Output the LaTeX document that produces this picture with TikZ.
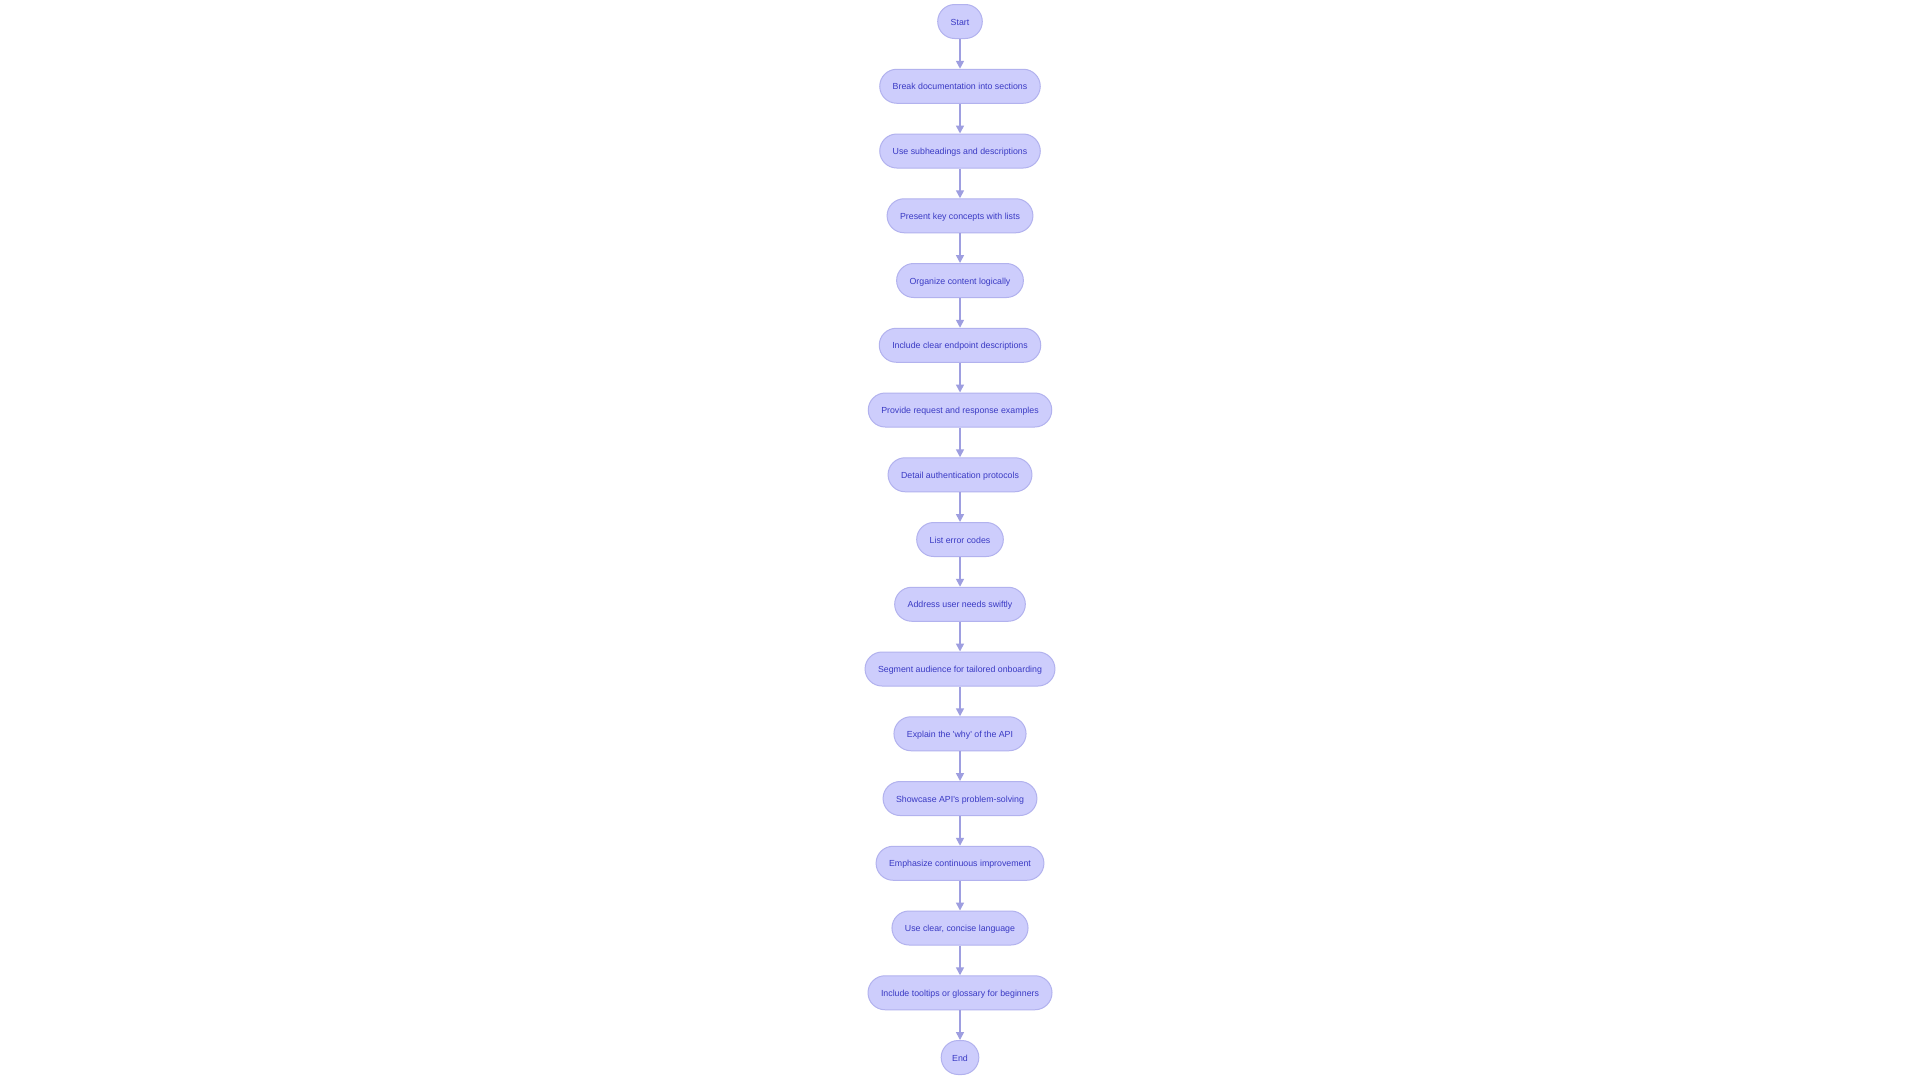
\documentclass[tikz,border=0pt]{standalone}
\usepackage{fontspec}
\setmainfont{Liberation Sans}
\usetikzlibrary{arrows.meta}
\definecolor{nodefill}{RGB}{205,205,252}
\definecolor{nodestroke}{RGB}{178,178,238}
\definecolor{nodetext}{RGB}{58,58,196}
\definecolor{edgecol}{RGB}{158,158,224}
\begin{document}
\begin{tikzpicture}[x=1pt,y=-1pt,
  flowbox/.style={draw=nodestroke, fill=nodefill, line width=1pt, rounded corners=17pt,
    minimum height=34pt, inner xsep=13pt, inner ysep=2pt, text=nodetext,
    text height=8pt, text depth=1pt,
    font=\fontsize{8.8}{10}\selectfont},
  flowarrow/.style={draw=edgecol, line width=1.6pt, -{Triangle[length=8pt,width=8pt]}}]
\useasboundingbox (0,0) rectangle (1920,1080);
\fill[white] (0,0) rectangle (1920,1080);
\node[flowbox] (n0) at (960,21.5) {Start};
\node[flowbox] (n1) at (960,86.25) {Break documentation into sections};
\node[flowbox] (n2) at (960,151) {Use subheadings and descriptions};
\node[flowbox] (n3) at (960,215.75) {Present key concepts with lists};
\node[flowbox] (n4) at (960,280.5) {Organize content logically};
\node[flowbox] (n5) at (960,345.25) {Include clear endpoint descriptions};
\node[flowbox] (n6) at (960,410) {Provide request and response examples};
\node[flowbox] (n7) at (960,474.75) {Detail authentication protocols};
\node[flowbox] (n8) at (960,539.5) {List error codes};
\node[flowbox] (n9) at (960,604.25) {Address user needs swiftly};
\node[flowbox] (n10) at (960,669) {Segment audience for tailored onboarding};
\node[flowbox] (n11) at (960,733.75) {Explain the \textquotesingle why\textquotesingle{} of the API};
\node[flowbox] (n12) at (960,798.5) {Showcase API\textquotesingle s problem-solving};
\node[flowbox] (n13) at (960,863.25) {Emphasize continuous improvement};
\node[flowbox] (n14) at (960,928) {Use clear, concise language};
\node[flowbox] (n15) at (960,992.75) {Include tooltips or glossary for beginners};
\node[flowbox, inner xsep=11pt] (n16) at (960,1057.5) {End};
\foreach \a/\b in {n0/n1,n1/n2,n2/n3,n3/n4,n4/n5,n5/n6,n6/n7,n7/n8,n8/n9,n9/n10,n10/n11,n11/n12,n12/n13,n13/n14,n14/n15,n15/n16}
  \draw[flowarrow] (\a.south) -- (\b.north);
\end{tikzpicture}
\end{document}
